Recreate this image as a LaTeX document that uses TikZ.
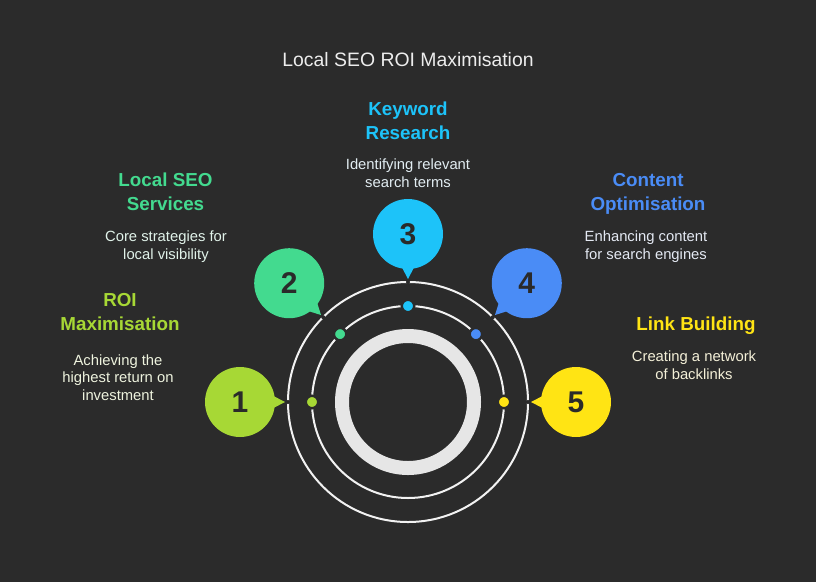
\documentclass[tikz,border=0pt]{standalone}
\usepackage{fontspec}
\setmainfont{Liberation Sans}
\usetikzlibrary{calc}
\definecolor{bgc}{HTML}{2B2B2B}
\definecolor{numc}{HTML}{2A2A2A}
\definecolor{ringc}{HTML}{F2F2F2}
\definecolor{thickc}{HTML}{E6E6E6}
\definecolor{titlec}{HTML}{EDEDED}
\definecolor{limec}{HTML}{A7D835}
\definecolor{greenc}{HTML}{43DA8F}
\definecolor{cyanc}{HTML}{1DC3F9}
\definecolor{bluec}{HTML}{4A8CF6}
\definecolor{yellowc}{HTML}{FFE414}
\definecolor{limel}{HTML}{EEF3DE}
\definecolor{greenl}{HTML}{E1F3EA}
\definecolor{cyanl}{HTML}{E2EDF2}
\definecolor{bluel}{HTML}{E4E9F3}
\definecolor{yellowl}{HTML}{F4F0D8}
\begin{document}
\begin{tikzpicture}[x=1pt,y=-1pt,
  head/.style={font=\bfseries\fontsize{18.8}{24}\selectfont, align=center, anchor=base, inner sep=0},
  desc/.style={font=\fontsize{14.8}{17.8}\selectfont, align=center, anchor=base, inner sep=0},
  bubble/.style={circle, minimum size=70pt, inner sep=0, font=\bfseries\fontsize{30}{30}\selectfont, text=numc},
  dotn/.style={circle, minimum size=12.5pt, inner sep=0, draw=bgc, line width=2.5pt},
  ringn/.style={circle, inner sep=0, draw=ringc, line width=2pt}]
\fill[bgc] (0,0) rectangle (816,582);
\useasboundingbox (0,0) rectangle (816,582);
\coordinate (c0) at (408,402);
% rings
\node[ringn, minimum size=240pt] (outer) at (c0) {};
\node[ringn, minimum size=192pt] (middle) at (c0) {};
\node[circle, inner sep=0, draw=thickc, line width=14pt, minimum size=132pt] (core) at (c0) {};
% gaps in outer ring
\foreach \a in {180,225,270,315,0}
  \fill[bgc] ($(c0)+(\a:120)$) circle[radius=2];
% dots on middle ring
\node[dotn, fill=limec] (p1) at ($(c0)+(180:96)$) {};
\node[dotn, fill=greenc] (p2) at ($(c0)+(225:96)$) {};
\node[dotn, fill=cyanc] (p3) at ($(c0)+(270:96)$) {};
\node[dotn, fill=bluec] (p4) at ($(c0)+(315:96)$) {};
\node[dotn, fill=yellowc] (p5) at ($(c0)+(0:96)$) {};
% bubbles
\foreach \i/\a/\col in {1/180/limec,2/225/greenc,3/270/cyanc,4/315/bluec,5/0/yellowc}{
  \node[bubble, fill=\col] (b\i) at ($(c0)+(\a:168)$) {\i};
  \coordinate (t\i) at ($(b\i.center)!45pt!(c0)$);
  \fill[\col] (t\i) -- ($(b\i.center)!32pt!13:(c0)$) -- ($(b\i.center)!32pt!-13:(c0)$) -- cycle;
}
% title
\node[font=\fontsize{19.4}{20}\selectfont, text=titlec, anchor=base, inner sep=0] (title) at (408,66.7) {Local SEO ROI Maximisation};
% labels (anchor base = baseline of last line)
\node[head, text=limec] (h1) at (120,330.7) {ROI\\Maximisation};
\node[desc, text=limel] (d1) at (118,400.6) {Achieving the\\highest return on\\investment};
\node[head, text=greenc] (h2) at (165.5,210.7) {Local SEO\\Services};
\node[desc, text=greenl] (d2) at (166,259.5) {Core strategies for\\local visibility};
\node[head, text=cyanc] (h3) at (408,139) {Keyword\\Research};
\node[desc, text=cyanl] (d3) at (408,187.5) {Identifying relevant\\search terms};
\node[head, text=bluec] (h4) at (648,210.7) {Content\\Optimisation};
\node[desc, text=bluel] (d4) at (646,259.5) {Enhancing content\\for search engines};
\node[head, text=yellowc] (h5) at (696,330.7) {Link Building};
\node[desc, text=yellowl] (d5) at (694,379.5) {Creating a network\\of backlinks};
\end{tikzpicture}
\end{document}
